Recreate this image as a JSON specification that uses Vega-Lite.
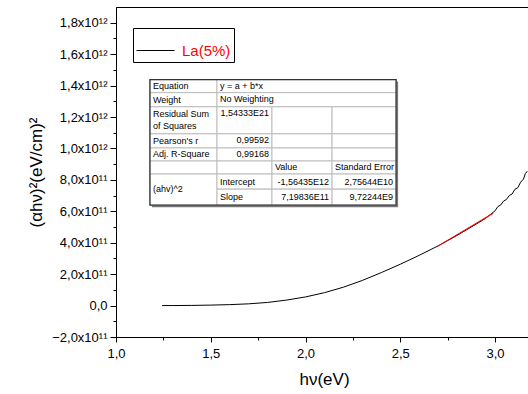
{
  "$schema": "https://vega.github.io/schema/vega-lite/v6.json",
  "autosize": {"type": "none"},
  "width": 416,
  "height": 330,
  "padding": {"left": 116, "top": 7, "right": 0, "bottom": 57},
  "background": "white",
  "config": {
    "view": {"stroke": "black", "strokeWidth": 1},
    "font": "Liberation Sans",
    "axis": {"labelFont": "Liberation Sans", "titleFont": "Liberation Sans", "labelColor": "black", "titleColor": "black", "domainColor": "black", "tickColor": "black", "titleFontWeight": "normal", "grid": false}
  },
  "datasets": {
    "curve": [
      {"x": 1.243, "y": 0},
      {"x": 1.3, "y": 2e8},
      {"x": 1.4, "y": 1e9},
      {"x": 1.5, "y": 3e9},
      {"x": 1.6, "y": 6e9},
      {"x": 1.7, "y": 1.1e10},
      {"x": 1.8, "y": 2e10},
      {"x": 1.9, "y": 3.5e10},
      {"x": 2.0, "y": 5.5e10},
      {"x": 2.1, "y": 8.2e10},
      {"x": 2.2, "y": 1.17e11},
      {"x": 2.3, "y": 1.6e11},
      {"x": 2.4, "y": 2.1e11},
      {"x": 2.5, "y": 2.63e11},
      {"x": 2.6, "y": 3.2e11},
      {"x": 2.7, "y": 3.8e11},
      {"x": 2.8, "y": 4.47e11},
      {"x": 2.9, "y": 5.18e11},
      {"x": 2.95, "y": 5.55e11},
      {"x": 3.0, "y": 6.03e11},
      {"x": 3.015, "y": 6.3e11},
      {"x": 3.03, "y": 6.4e11},
      {"x": 3.045, "y": 6.65e11},
      {"x": 3.06, "y": 6.75e11},
      {"x": 3.075, "y": 7.0e11},
      {"x": 3.09, "y": 7.1e11},
      {"x": 3.105, "y": 7.4e11},
      {"x": 3.12, "y": 7.5e11},
      {"x": 3.135, "y": 7.85e11},
      {"x": 3.15, "y": 8.05e11},
      {"x": 3.16, "y": 8.4e11},
      {"x": 3.17, "y": 8.55e11}
    ],
    "fit": [
      {"x": 2.694, "y": 3.75e11},
      {"x": 2.99, "y": 5.88e11}
    ],
    "cells": [
      {"x": 1.179, "x2": 1.533, "y": 1.438e12, "y2": 1.355e12},
      {"x": 1.533, "x2": 2.478, "y": 1.438e12, "y2": 1.355e12},
      {"x": 1.179, "x2": 1.533, "y": 1.355e12, "y2": 1.265e12},
      {"x": 1.533, "x2": 2.478, "y": 1.355e12, "y2": 1.265e12},
      {"x": 1.179, "x2": 1.533, "y": 1.265e12, "y2": 1.093e12},
      {"x": 1.533, "x2": 1.823, "y": 1.265e12, "y2": 1.093e12},
      {"x": 1.823, "x2": 2.14, "y": 1.265e12, "y2": 1.093e12},
      {"x": 2.14, "x2": 2.478, "y": 1.265e12, "y2": 1.093e12},
      {"x": 1.179, "x2": 1.533, "y": 1.093e12, "y2": 1.003e12},
      {"x": 1.533, "x2": 1.823, "y": 1.093e12, "y2": 1.003e12},
      {"x": 1.823, "x2": 2.14, "y": 1.093e12, "y2": 1.003e12},
      {"x": 2.14, "x2": 2.478, "y": 1.093e12, "y2": 1.003e12},
      {"x": 1.179, "x2": 1.533, "y": 1.003e12, "y2": 9.2e11},
      {"x": 1.533, "x2": 1.823, "y": 1.003e12, "y2": 9.2e11},
      {"x": 1.823, "x2": 2.14, "y": 1.003e12, "y2": 9.2e11},
      {"x": 2.14, "x2": 2.478, "y": 1.003e12, "y2": 9.2e11},
      {"x": 1.179, "x2": 1.533, "y": 9.2e11, "y2": 8.37e11},
      {"x": 1.533, "x2": 1.823, "y": 9.2e11, "y2": 8.37e11},
      {"x": 1.823, "x2": 2.14, "y": 9.2e11, "y2": 8.37e11},
      {"x": 2.14, "x2": 2.478, "y": 9.2e11, "y2": 8.37e11},
      {"x": 1.179, "x2": 1.533, "y": 8.37e11, "y2": 6.39e11},
      {"x": 1.533, "x2": 1.823, "y": 8.37e11, "y2": 7.41e11},
      {"x": 1.823, "x2": 2.14, "y": 8.37e11, "y2": 7.41e11},
      {"x": 2.14, "x2": 2.478, "y": 8.37e11, "y2": 7.41e11},
      {"x": 1.533, "x2": 1.823, "y": 7.41e11, "y2": 6.39e11},
      {"x": 1.823, "x2": 2.14, "y": 7.41e11, "y2": 6.39e11},
      {"x": 2.14, "x2": 2.478, "y": 7.41e11, "y2": 6.39e11}
    ],
    "outer": [
      {"x": 1.179, "x2": 2.478, "y": 1.438e12, "y2": 6.39e11}
    ],
    "textL": [
      {"x": 1.179, "y": 1.396e12, "label": "Equation"},
      {"x": 1.533, "y": 1.396e12, "label": "y = a + b*x"},
      {"x": 1.179, "y": 1.31e12, "label": "Weight"},
      {"x": 1.533, "y": 1.315e12, "label": "No Weighting"},
      {"x": 1.179, "y": 1.22e12, "label": "Residual Sum"},
      {"x": 1.179, "y": 1.144e12, "label": "of Squares"},
      {"x": 1.179, "y": 1.048e12, "label": "Pearson's r"},
      {"x": 1.179, "y": 9.62e11, "label": "Adj. R-Square"},
      {"x": 1.823, "y": 8.79e11, "label": "Value"},
      {"x": 2.14, "y": 8.79e11, "label": "Standard Error"},
      {"x": 1.179, "y": 7.41e11, "label": "(ahv)^2"},
      {"x": 1.533, "y": 7.89e11, "label": "Intercept"},
      {"x": 1.533, "y": 6.9e11, "label": "Slope"}
    ],
    "textR": [
      {"x": 1.823, "y": 1.225e12, "label": "1,54333E21"},
      {"x": 1.823, "y": 1.052e12, "label": "0,99592"},
      {"x": 1.823, "y": 9.66e11, "label": "0,99168"},
      {"x": 2.14, "y": 7.89e11, "label": "-1,56435E12"},
      {"x": 2.478, "y": 7.89e11, "label": "2,75644E10"},
      {"x": 2.14, "y": 6.9e11, "label": "7,19836E11"},
      {"x": 2.478, "y": 6.9e11, "label": "9,72244E9"}
    ]
  },
  "encoding": {
    "x": {"field": "x", "type": "quantitative",
      "scale": {"domain": [1, 3.195], "nice": false, "zero": false},
      "axis": {
        "title": "hν(eV)", "titleFontSize": 17, "titlePadding": 11,
        "values": [1, 1.25, 1.5, 1.75, 2, 2.25, 2.5, 2.75, 3],
        "labelExpr": "abs(datum.value*2 - round(datum.value*2)) < 0.01 ? replace(format(datum.value, '.1f'), '.', ',') : ''",
        "labelFontSize": 13, "labelPadding": 5,
        "tickSize": {"condition": {"test": "abs(datum.value*2 - round(datum.value*2)) < 0.01", "value": 5}, "value": 3},
        "tickWidth": 1, "labelFlush": false, "labelOverlap": false
      }
    },
    "y": {"field": "y", "type": "quantitative",
      "scale": {"domain": [-2e11, 1.9e12], "nice": false, "zero": false},
      "axis": {
        "title": "(αhν)²(eV/cm)²", "titleFontSize": 17, "titlePadding": 6,
        "values": [-2e11, -1e11, 0, 1e11, 2e11, 3e11, 4e11, 5e11, 6e11, 7e11, 8e11, 9e11, 1e12, 1.1e12, 1.2e12, 1.3e12, 1.4e12, 1.5e12, 1.6e12, 1.7e12, 1.8e12],
        "labelExpr": "abs(datum.value/2e11 - round(datum.value/2e11)) > 0.01 ? '' : (datum.value == 0 ? '0,0' : (abs(datum.value) < 9.9e11 ? replace(format(datum.value/1e11, '.1f'), '.', ',') + 'x10¹¹' : replace(format(datum.value/1e12, '.1f'), '.', ',') + 'x10¹²'))",
        "labelFontSize": 13, "labelPadding": 3,
        "tickSize": {"condition": {"test": "abs(datum.value/2e11 - round(datum.value/2e11)) < 0.01", "value": 6}, "value": 3},
        "tickWidth": 1, "labelFlush": false, "labelOverlap": false
      }
    }
  },
  "layer": [
    {
      "data": {"name": "curve"},
      "mark": {"type": "line", "strokeWidth": 1, "clip": true},
      "encoding": {
        "color": {"datum": "La(5%)", "type": "nominal",
          "scale": {"range": ["black"]},
          "legend": {
            "title": null, "orient": "none", "legendX": 17, "legendY": 21,
            "strokeColor": "black", "fillColor": "white", "padding": 3, "cornerRadius": 0,
            "symbolType": "stroke", "symbolSize": 1444, "symbolStrokeWidth": 1, "symbolStrokeColor": "black",
            "labelColor": "red", "labelFontSize": 15, "labelFont": "Liberation Sans", "labelOffset": 7
          }
        }
      }
    },
    {
      "data": {"name": "fit"},
      "mark": {"type": "line", "color": "red", "strokeWidth": 1.1},
      "encoding": {}
    },
    {
      "data": {"name": "outer"},
      "mark": {"type": "rect", "fill": "#7a7a7a", "xOffset": 2, "yOffset": 2, "x2Offset": 2, "y2Offset": 2},
      "encoding": {"x2": {"field": "x2"}, "y2": {"field": "y2"}}
    },
    {
      "data": {"name": "cells"},
      "mark": {"type": "rect", "fill": "white", "stroke": "#bdbdbd", "strokeWidth": 1},
      "encoding": {"x2": {"field": "x2"}, "y2": {"field": "y2"}}
    },
    {
      "data": {"name": "outer"},
      "mark": {"type": "rect", "fill": null, "fillOpacity": 0, "stroke": "#333333", "strokeWidth": 1.3},
      "encoding": {"x2": {"field": "x2"}, "y2": {"field": "y2"}}
    },
    {
      "data": {"name": "textL"},
      "mark": {"type": "text", "align": "left", "baseline": "middle", "dx": 3, "fontSize": 9, "font": "Liberation Sans", "color": "black"},
      "encoding": {"text": {"field": "label"}}
    },
    {
      "data": {"name": "textR"},
      "mark": {"type": "text", "align": "right", "baseline": "middle", "dx": -3, "fontSize": 9, "font": "Liberation Sans", "color": "black"},
      "encoding": {"text": {"field": "label"}}
    }
  ]
}
